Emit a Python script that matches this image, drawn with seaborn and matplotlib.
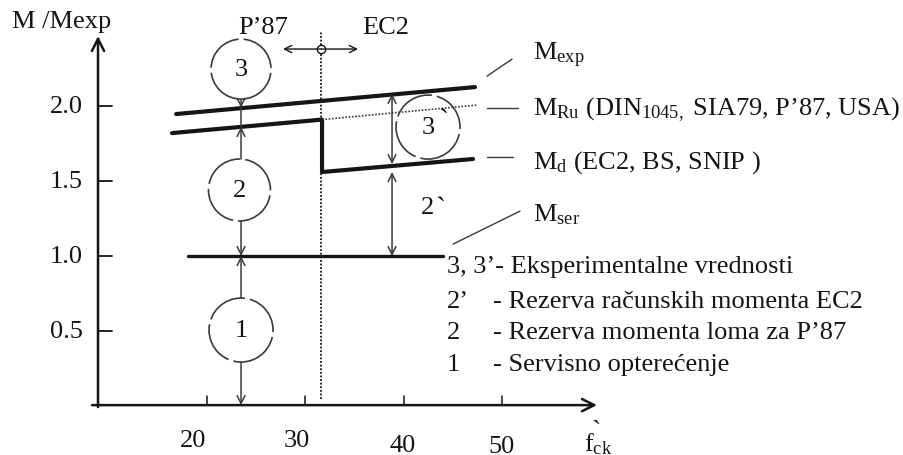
import numpy as np
import pandas as pd
import matplotlib.pyplot as plt
from matplotlib.patches import Ellipse
import seaborn as sns

# Schematic values (x = f_ck, y = M / Mexp)
m_exp_f = [16.85, 47.26]
m_exp_m = [1.948, 2.128]

# M_Ru up to the EC2 limit, the drop, then M_d
m_d_f = [16.44, 31.7, 31.7, 47.06]
m_d_m = [1.821, 1.911, 1.561, 1.648]

# M_Ru continued (dotted) beyond EC2 limit
m_ru_f = [31.7, 47.47]
m_ru_m = [1.911, 2.008]

m_ser_f = [18.07, 44.0]
m_ser_m = [1.0, 1.0]

limit_f = 31.6
limit_m = [0.045, 2.495]

yticks = [0.5, 1.0, 1.5, 2.0]
ytick_labels = ['0.5', '1.0', '1.5', '2.0']
xticks = [20, 30, 40, 50]
xtick_labels = ['20', '30', '40', '50']
xlabel_pos = [(18.58, -0.225), (29.16, -0.225), (39.94, -0.26), (50.0, -0.265)]

# dashed circles: (f, M, radius in px, label)
circles = [(23.46, 2.248, 30, '3'), (23.3, 1.441, 31, '2'),
           (23.46, 0.506, 32, '1'), (42.48, 1.861, 32, '3')]

right_labels = [r'M$_{\mathrm{exp}}$',
                r'M$_{\mathrm{Ru}}$ (DIN$_{1045,}$ SIA79, P’87, USA)',
                r'M$_{\mathrm{d}}$ (EC2, BS, SNIP )',
                r'M$_{\mathrm{ser}}$']
right_label_m = [2.348, 1.981, 1.634, 1.28]

legend_keys = ['3, 3’- Eksperimentalne vrednosti', '2’', '2', '1']
legend_text = ['', '- Rezerva računskih momenta EC2',
               '- Rezerva momenta loma za P’87', '- Servisno opterećenje']
legend_m = [0.933, 0.700, 0.493, 0.279]

sns.set_theme(style='white')
plt.rcParams['font.family'] = ['Liberation Serif', 'DejaVu Serif']
plt.rcParams['mathtext.fontset'] = 'custom'
plt.rcParams['mathtext.rm'] = 'Liberation Serif'
plt.rcParams['mathtext.it'] = 'Liberation Serif:italic'

PX_X = 9.83    # pixels per f_ck unit
PX_Y = 149.8   # pixels per M unit
ink = '#151515'
thin = '#3a3a3a'
fs = 19

fig = plt.figure(figsize=(9.04, 4.56), dpi=100)
ax = fig.add_axes([0, 0, 1, 1])
ax.set_xlim(-1.06, 90.9)
ax.set_ylim(-0.328, 2.716)
ax.axis('off')

# axes with arrows
arrow_axis = dict(arrowstyle='->', lw=1.8, color=ink, mutation_scale=22, shrinkA=0, shrinkB=0)
ax.annotate('', xy=(8.91, 2.469), xytext=(8.91, -0.008), arrowprops=arrow_axis)
ax.annotate('', xy=(59.67, 0.005), xytext=(8.3, 0.005), arrowprops=arrow_axis)
for y, lab in zip(yticks, ytick_labels):
    ax.plot([8.91, 10.3], [y, y], color=ink, lw=1.3)
    ax.text(7.4, y, lab, ha='right', va='center', fontsize=fs, color=ink)
for x, lab, pos in zip(xticks, xtick_labels, xlabel_pos):
    ax.plot([x, x], [0.005, 0.065], color=ink, lw=1.1)
    ax.text(pos[0], pos[1], lab, ha='center', va='center', fontsize=fs, color=ink)
ax.text(0.16, 2.569, 'M /Mexp', ha='left', va='center', fontsize=fs, color=ink)
ax.text(58.3, -0.25, r'f$_{\mathrm{ck}}$', ha='left', va='center', fontsize=fs, color=ink)
ax.text(59.1, -0.17, '`', ha='left', va='center', fontsize=20, color=ink)

# main moment lines
sns.lineplot(x=m_exp_f, y=m_exp_m, ax=ax, color=ink, lw=3, sort=False, estimator=None)
sns.lineplot(x=m_d_f, y=m_d_m, ax=ax, color=ink, lw=3, sort=False, estimator=None)
sns.lineplot(x=m_ru_f, y=m_ru_m, ax=ax, color=thin, lw=1.2, ls=(0, (1, 1)), sort=False, estimator=None)
sns.lineplot(x=m_ser_f, y=m_ser_m, ax=ax, color=ink, lw=2.4, sort=False, estimator=None)
ax.plot([limit_f, limit_f], limit_m, color=ink, lw=1.3, ls=(0, (1, 1)))

# P'87 / EC2 limit marker
arr = dict(arrowstyle='->', lw=1.0, color=ink, mutation_scale=13, shrinkA=0, shrinkB=0)
ax.annotate('', xy=(27.73, 2.382), xytext=(limit_f, 2.382), arrowprops=arr)
ax.annotate('', xy=(35.36, 2.382), xytext=(limit_f, 2.382), arrowprops=arr)
ax.plot(limit_f, 2.382, 'o', ms=6, mfc='white', mec=ink, mew=1.0)
ax.text(25.7, 2.529, 'P’87', ha='center', va='center', fontsize=fs, color=ink)
ax.text(38.21, 2.529, 'EC2', ha='center', va='center', fontsize=fs, color=ink)

# dashed circles
for f, m, r, lab in circles:
    ax.add_patch(Ellipse((f, m), 2 * r / PX_X, 2 * r / PX_Y, fill=False,
                         ec=thin, lw=1.2, ls=(0, (26, 3))))
    ax.text(f, m, lab, ha='center', va='center', fontsize=fs, color=ink)
ax.text(44.0, 1.895, '`', ha='center', va='center', fontsize=22, color=ink)

# vertical reserve arrows
arr = dict(arrowstyle='->', lw=1.1, color=thin, mutation_scale=14, shrinkA=0, shrinkB=0)
arr2 = dict(arrowstyle='<->', lw=1.1, color=thin, mutation_scale=14, shrinkA=0, shrinkB=0)
ax.annotate('', xy=(23.46, 1.99), xytext=(23.46, 2.048), arrowprops=arr)
ax.annotate('', xy=(23.46, 1.862), xytext=(23.46, 1.648), arrowprops=arr)
ax.plot([23.46, 23.46], [1.862, 1.99], color=thin, lw=1.1)
ax.annotate('', xy=(23.46, 1.0), xytext=(23.46, 1.234), arrowprops=arr)
ax.annotate('', xy=(23.46, 1.0), xytext=(23.46, 0.72), arrowprops=arr)
ax.annotate('', xy=(23.46, 0.005), xytext=(23.46, 0.292), arrowprops=arr)
ax.annotate('', xy=(38.82, 2.082), xytext=(38.82, 1.614), arrowprops=arr2)
ax.annotate('', xy=(38.82, 1.561), xytext=(38.82, 1.0), arrowprops=arr2)
ax.text(42.38, 1.325, '2', ha='center', va='center', fontsize=fs, color=ink)
ax.text(43.7, 1.31, '`', ha='center', va='center', fontsize=22, color=ink)

# leader lines and line labels
ax.plot([48.48, 51.03], [2.201, 2.315], color=thin, lw=1.0)
ax.plot([48.48, 51.64], [1.988, 1.988], color=thin, lw=1.0)
ax.plot([48.48, 51.13], [1.661, 1.661], color=thin, lw=1.0)
ax.plot([45.03, 51.84], [1.08, 1.30], color=thin, lw=1.0)
for lab, m in zip(right_labels, right_label_m):
    ax.text(53.16, m, lab, ha='left', va='center', fontsize=fs, color=ink)

# legend text
for key, txt, m in zip(legend_keys, legend_text, legend_m):
    ax.text(44.41, m, key, ha='left', va='center', fontsize=fs, color=ink)
    if txt:
        ax.text(49.09, m, txt, ha='left', va='center', fontsize=fs, color=ink)

fig.savefig('out.png', dpi=100)
